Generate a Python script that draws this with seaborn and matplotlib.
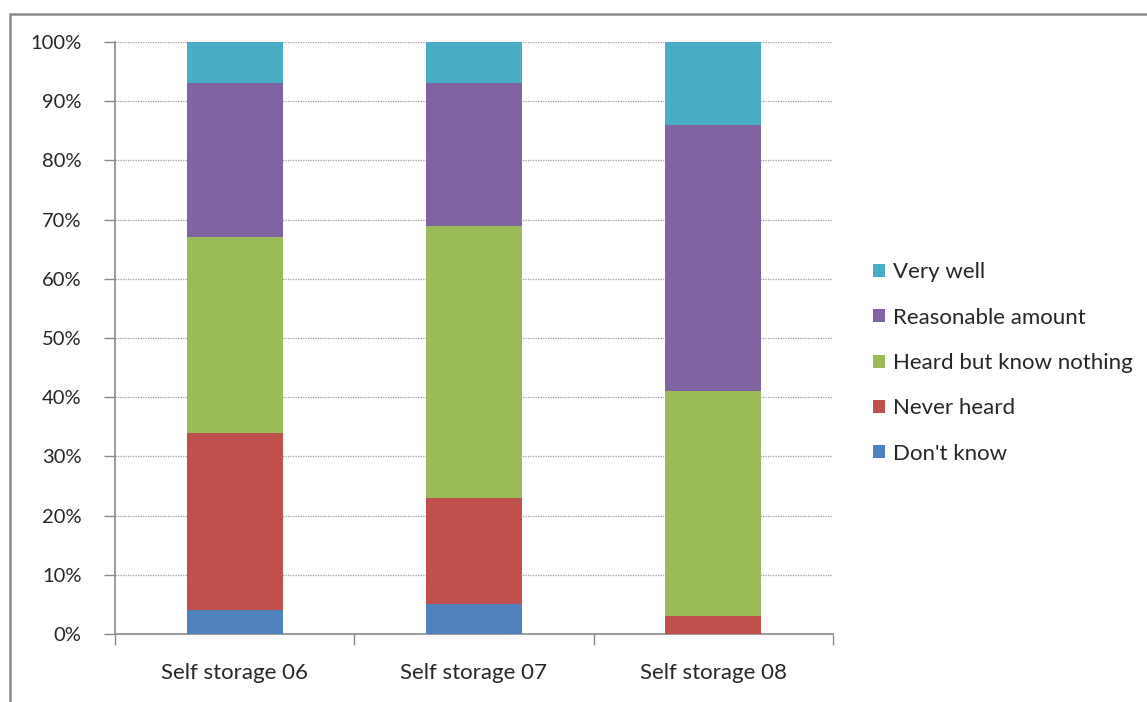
import matplotlib
matplotlib.use("Agg")
import matplotlib.pyplot as plt
from matplotlib.patches import Rectangle, Patch
from matplotlib.ticker import FixedLocator, PercentFormatter
import numpy as np
import pandas as pd
import seaborn as sns

# Survey shares (%) per wave, stacked bottom to top
categories = ["Self storage 06", "Self storage 07", "Self storage 08"]
series_names = ["Don't know", "Never heard", "Heard but know nothing",
                "Reasonable amount", "Very well"]
dont_know = [4, 5, 0]
never_heard = [30, 18, 3]
heard_nothing = [33, 46, 38]
reasonable = [26, 24, 45]
very_well = [7, 7, 14]
y_ticks = list(range(0, 101, 10))

colors = ["#4F81BD", "#C0504D", "#9BBB59", "#8064A2", "#4BACC6"]

sns.set_theme(style="white")
plt.rcParams["font.family"] = ["Lato", "DejaVu Sans"]

values = np.array([dont_know, never_heard, heard_nothing, reasonable, very_well], float)
tops = values.cumsum(axis=0)

fig = plt.figure(figsize=(11.47, 7.02), dpi=100)
fig.patch.set_facecolor("white")
ax = fig.add_axes([115 / 1147, (702 - 634) / 702, (833 - 115) / 1147, (634 - 42) / 702])

# Outer chart frame
fig.patches.append(Rectangle((10 / 1147, -0.05), 1.2, (702 - 13.5) / 702 + 0.05,
                             transform=fig.transFigure, fill=False,
                             edgecolor="#8a8a8a", linewidth=1.8, zorder=0))

# Draw cumulative totals from the top series down so each layer shows its own share
for i in range(len(series_names) - 1, -1, -1):
    df = pd.DataFrame({"category": categories, "top": tops[i]})
    sns.barplot(data=df, x="category", y="top", color=colors[i], width=0.4,
                saturation=1, ax=ax, zorder=3, linewidth=0)

ax.set_ylim(0, 100)
ax.set_xlim(-0.5, 2.5)
ax.set_xlabel("")
ax.set_ylabel("")

ax.yaxis.set_major_locator(FixedLocator(y_ticks))
ax.yaxis.set_major_formatter(PercentFormatter(decimals=0))
ax.yaxis.grid(True, linestyle=(0, (1, 1)), color="#9a9a9a", linewidth=0.9, zorder=0)
ax.set_axisbelow(True)

# Category labels between boundary ticks
ax.xaxis.set_major_locator(FixedLocator([-0.5, 0.5, 1.5, 2.5]))
ax.xaxis.set_minor_locator(FixedLocator([0, 1, 2]))
ax.set_xticklabels([], minor=False)
ax.set_xticklabels(categories, minor=True)
ax.tick_params(axis="x", which="major", direction="out", length=8, width=1,
               color="#8a8a8a", bottom=True)
ax.tick_params(axis="x", which="minor", length=0, pad=21, labelsize=16,
               labelcolor="#262626", bottom=True)
ax.tick_params(axis="y", direction="out", length=8, width=1, color="#8a8a8a",
               left=True, pad=16, labelsize=14.5, labelcolor="#262626")

for side in ["top", "right"]:
    ax.spines[side].set_visible(False)
for side in ["left", "bottom"]:
    ax.spines[side].set_color("#8a8a8a")
    ax.spines[side].set_linewidth(1.2)

handles = [Patch(facecolor=colors[i], edgecolor="none") for i in range(len(series_names) - 1, -1, -1)]
labels = [series_names[i] for i in range(len(series_names) - 1, -1, -1)]
fig.legend(handles, labels, loc="center left", bbox_to_anchor=(864 / 1147, (702 - 363) / 702),
           frameon=False, fontsize=16, handlelength=0.54, handleheight=0.54,
           handletextpad=0.36, labelspacing=1.14, borderaxespad=0,
           labelcolor="#262626")

fig.savefig("out.png", dpi=100, facecolor="white")
